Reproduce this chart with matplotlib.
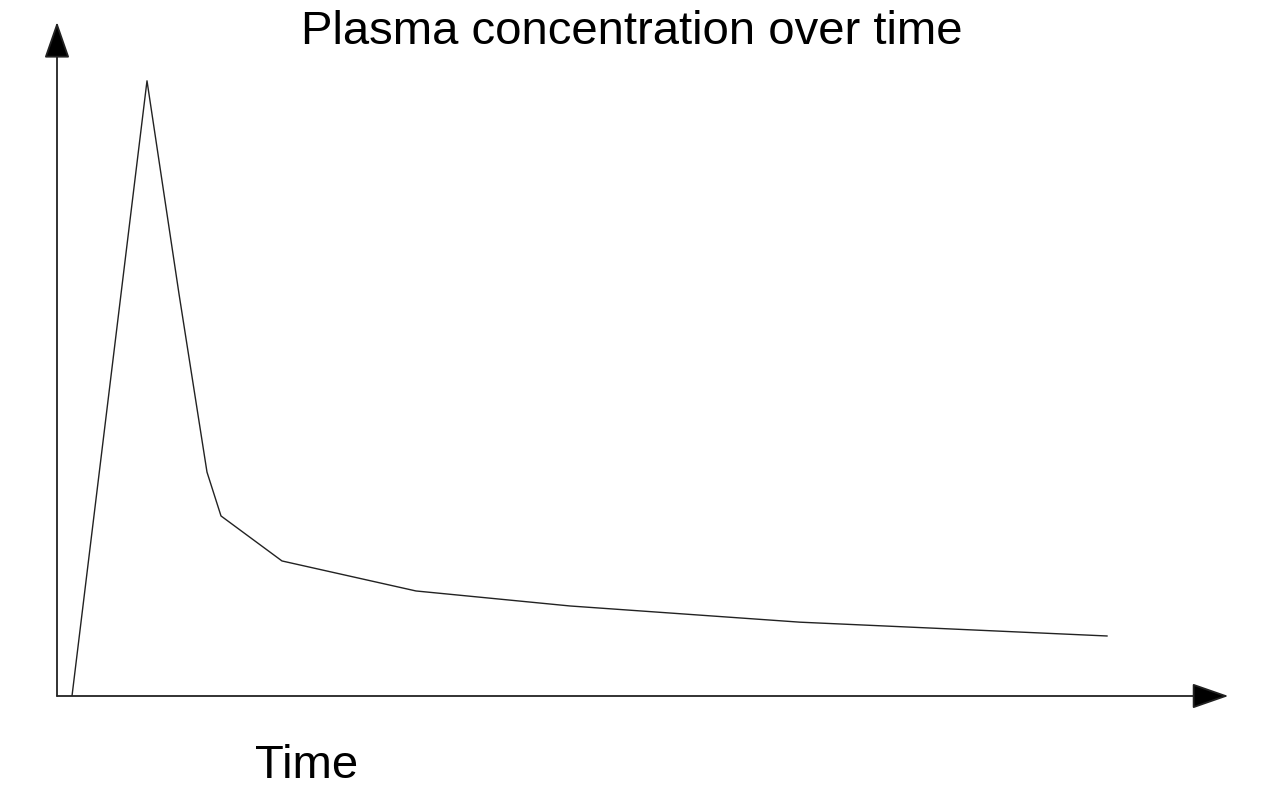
import matplotlib
matplotlib.use("Agg")
import matplotlib.pyplot as plt

# plasma concentration curve (arbitrary units)
time = [0.3, 1.8, 2.44, 3.0, 3.28, 4.5, 7.18, 10.26, 14.86, 21.0]
conc = [0.0, 10.25, 6.7, 3.73, 3.0, 2.25, 1.75, 1.5, 1.23, 1.0]

plt.rcParams['font.family'] = ['Liberation Sans', 'DejaVu Sans']

fig = plt.figure(figsize=(12.8, 8.1), dpi=100)
ax = fig.add_axes([57 / 1280, 114 / 810, 1169 / 1280, 674 / 810])

ax.plot(time, conc, color='#222222', lw=1.0)
ax.set_xlim(0, 23.38)
ax.set_ylim(0, 11.23)

for s in ax.spines.values():
    s.set_visible(False)
ax.set_xticks([])
ax.set_yticks([])

# axes with arrow heads
arrow = dict(arrowstyle='-|>,head_length=1.15,head_width=0.4', mutation_scale=20,
             lw=1.3, color='#222222', fc='black', shrinkA=0, shrinkB=0)
ax.annotate('', xy=(1.002, 0), xytext=(0, 0), xycoords='axes fraction', arrowprops=arrow,
            annotation_clip=False)
ax.annotate('', xy=(0, 1), xytext=(0, 0), xycoords='axes fraction', arrowprops=arrow,
            annotation_clip=False)

fig.text(632 / 1280, 1 - 44 / 810, 'Plasma concentration over time', fontsize=34,
         ha='center', va='baseline')
fig.text(307 / 1280, 1 - 778 / 810, 'Time', fontsize=34, ha='center', va='baseline')

fig.savefig('out.png', dpi=100)
